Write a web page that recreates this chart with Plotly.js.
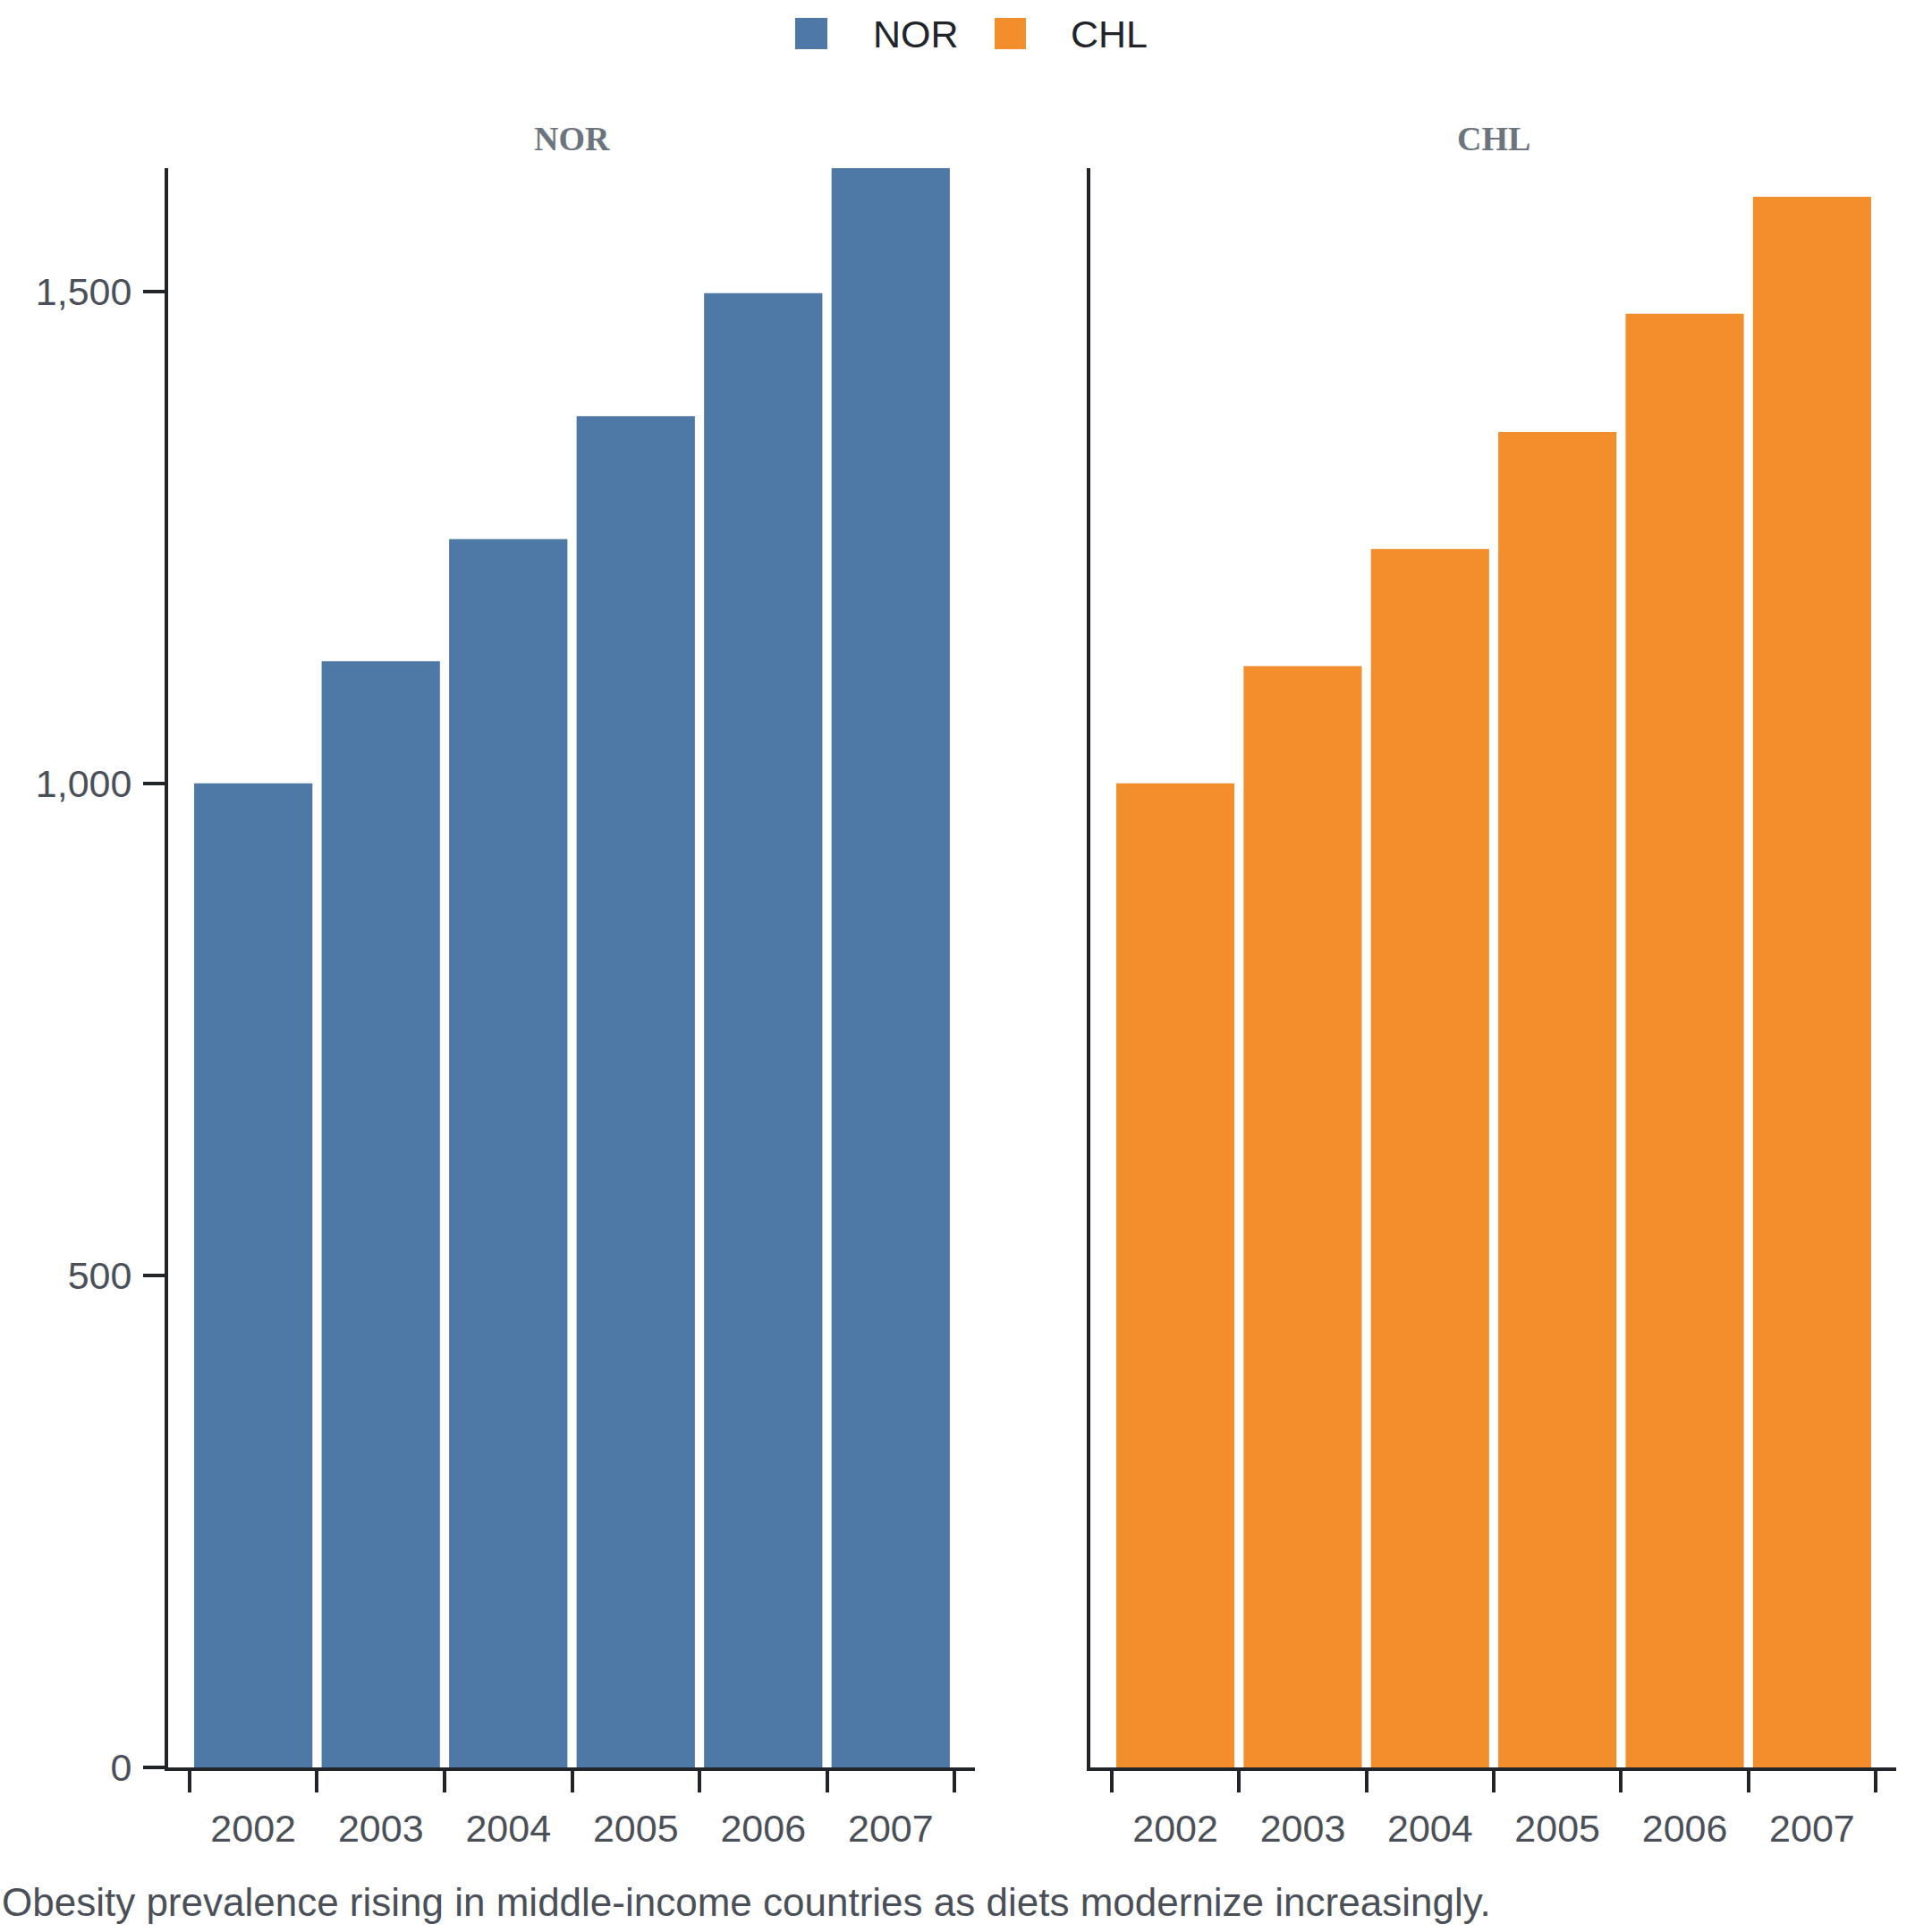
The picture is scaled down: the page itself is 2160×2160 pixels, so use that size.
<!DOCTYPE html>
<html>
<head>
<meta charset="utf-8">
<script src="https://cdn.plot.ly/plotly-3.0.1.min.js"></script>
<style>
  html, body { margin: 0; padding: 0; background: #fff; }
  #chart { width: 2160px; height: 2160px; }
</style>
</head>
<body>
<div id="chart"></div>
<script>
// data
const years = ["2002", "2003", "2004", "2005", "2006", "2007"];
const nor = [1000, 1124, 1248, 1373, 1498, 1625];
const chl = [1000, 1119, 1238, 1357, 1477, 1596];
const countries = ["NOR", "CHL"];
const yTicks = [0, 500, 1000, 1500];

const COL = { NOR: "#4e79a7", CHL: "#f28e2b" };
const SANS = "Liberation Sans, Arial, sans-serif";
const SERIF = "Liberation Serif, Times New Roman, serif";
const INK = "#212529", GREY = "#4b5058", TITLE = "#6c757d";

// page geometry (px) -> paper coords
const W = 2160, H = 2160, M = { l: 188, r: 40, t: 188, b: 184 };
const PW = W - M.l - M.r, PH = H - M.t - M.b;
const px = x => (x - M.l) / PW;
const py = y => (H - M.b - y) / PH;

const xRange = [-0.668, 5.661];
const yRange = [0, Math.max(...nor)];
const dom = [[0, px(1090)], [px(1219), 1]];

const XA = {
    type: "category", range: xRange, showline: true, linewidth: 4, linecolor: INK,
    ticks: "outside", tickson: "boundaries", ticklen: 24, tickwidth: 4, tickcolor: INK,
    ticklabelstandoff: 27,
    tickfont: { family: SANS, size: 43, color: GREY }, showgrid: false, zeroline: false
};
const YA = {
    range: yRange, showline: true, linewidth: 4, linecolor: INK, showgrid: false, zeroline: false
};

const traces = [
    { x: years, y: nor, type: "bar", name: "NOR", xaxis: "x", yaxis: "y", marker: { color: COL.NOR }, showlegend: false },
    { x: years, y: chl, type: "bar", name: "CHL", xaxis: "x2", yaxis: "y2", marker: { color: COL.CHL }, showlegend: false }
];

// legend drawn by hand so the keys can be as large as the reference's
const legKeys = [{ x0: 889, x1: 925, tx: 974 }, { x0: 1112, x1: 1147, tx: 1195 }];
const shapes = countries.map((c, i) => ({
    type: "rect", xref: "paper", yref: "paper",
    x0: px(legKeys[i].x0), x1: px(legKeys[i].x1), y0: py(55), y1: py(20),
    fillcolor: COL[c], line: { width: 0 }
}));

const annotations = [
    ...countries.map((c, i) => ({
        text: c, xref: "paper", yref: "paper", x: px(legKeys[i].tx), y: py(38),
        xanchor: "left", yanchor: "middle", showarrow: false,
        font: { family: SANS, size: 43, color: INK }
    })),
    // facet titles, centred over each panel
    ...countries.map((c, i) => ({
        text: c, xref: "paper", yref: "paper", x: (dom[i][0] + dom[i][1]) / 2, y: py(155),
        xanchor: "center", yanchor: "middle", showarrow: false,
        font: { family: SERIF, size: 38, color: TITLE, weight: "bold" }
    })),
    {
        text: "Obesity prevalence rising in middle-income countries as diets modernize increasingly.",
        xref: "paper", yref: "paper", x: px(0), y: py(2126), xanchor: "left", yanchor: "middle",
        showarrow: false, font: { family: SANS, size: 44, color: GREY }
    }
];

const layout = {
    width: W, height: H, margin: M,
    paper_bgcolor: "#fff", plot_bgcolor: "#fff",
    font: { family: SANS, color: GREY },
    bargap: 0.072, showlegend: false,
    xaxis: { ...XA, domain: dom[0], anchor: "y" },
    xaxis2: { ...XA, domain: dom[1], anchor: "y2" },
    yaxis: {
        ...YA, anchor: "x", tickmode: "array", tickvals: yTicks, tickformat: ",",
        ticks: "outside", ticklen: 24, tickwidth: 4, tickcolor: INK, ticklabelstandoff: 4,
        tickfont: { family: SANS, size: 43, color: GREY }
    },
    yaxis2: { ...YA, anchor: "x2", matches: "y", showticklabels: false, ticks: "" },
    shapes, annotations
};

Plotly.newPlot("chart", traces, layout, { displayModeBar: false, staticPlot: true });
</script>
</body>
</html>
